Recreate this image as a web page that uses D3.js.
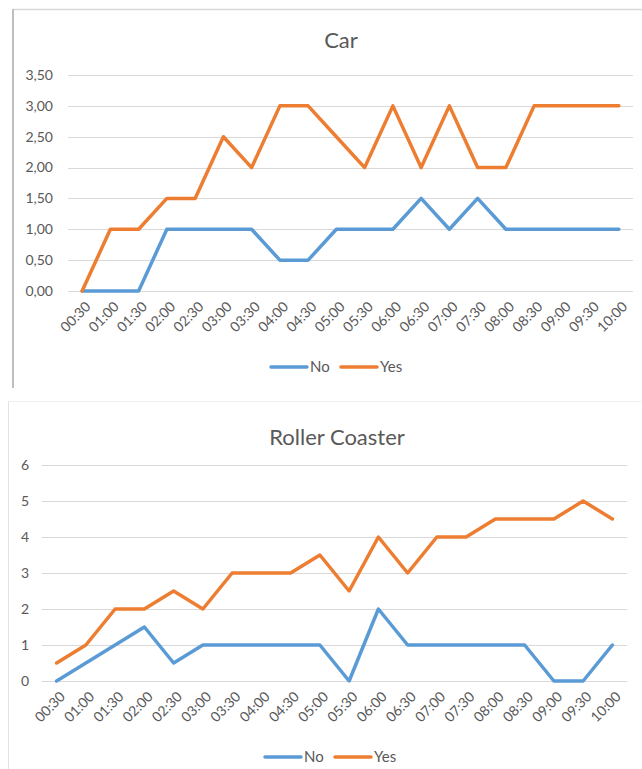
<!DOCTYPE html>
<html>
<head>
<meta charset="utf-8">
<script src="https://cdn.jsdelivr.net/npm/d3@7"></script>
<style>
  body { margin: 0; background: #fff; }
  svg { display: block; font-family: Lato, "Open Sans", sans-serif; }
  .grid line { stroke: #d9d9d9; stroke-width: 1; }
  .ytick, .xtick, .legend-text { fill: #595959; font-size: 14px; }
  .legend-text { font-size: 15px; }
  .title { fill: #595959; font-size: 22px; }
  .series { fill: none; stroke-width: 3.5; stroke-linejoin: round; stroke-linecap: round; }
</style>
</head>
<body>
<svg></svg>
<script>
const WIDTH = 642, HEIGHT = 769;

const times = ["00:30", "01:00", "01:30", "02:00", "02:30", "03:00", "03:30", "04:00", "04:30", "05:00",
  "05:30", "06:00", "06:30", "07:00", "07:30", "08:00", "08:30", "09:00", "09:30", "10:00"];

const carNo = [0, 0, 0, 1, 1, 1, 1, 0.5, 0.5, 1, 1, 1, 1.5, 1, 1.5, 1, 1, 1, 1, 1];
const carYes = [0, 1, 1, 1.5, 1.5, 2.5, 2, 3, 3, 2.5, 2, 3, 2, 3, 2, 2, 3, 3, 3, 3];
const carTicks = [0, 0.5, 1, 1.5, 2, 2.5, 3, 3.5];

const coasterNo = [0, 0.5, 1, 1.5, 0.5, 1, 1, 1, 1, 1, 0, 2, 1, 1, 1, 1, 1, 0, 0, 1];
const coasterYes = [0.5, 1, 2, 2, 2.5, 2, 3, 3, 3, 3.5, 2.5, 4, 3, 4, 4, 4.5, 4.5, 4.5, 5, 4.5];
const coasterTicks = [0, 1, 2, 3, 4, 5, 6];

const seriesNames = ["No", "Yes"];
const seriesColors = ["#5b9bd5", "#ed7d31"];

const svg = d3.select("svg").attr("width", WIDTH).attr("height", HEIGHT);

// chart frames (partial borders as in the screenshot)
svg.append("line").attr("x1", 13).attr("x2", WIDTH).attr("y1", 9.5).attr("y2", 9.5)
  .attr("stroke", "#d9d9d9").attr("stroke-width", 1.5);
svg.append("line").attr("x1", 13).attr("x2", 13).attr("y1", 9).attr("y2", 388)
  .attr("stroke", "#bfbfbf").attr("stroke-width", 2);
svg.append("line").attr("x1", 8).attr("x2", WIDTH).attr("y1", 401.5).attr("y2", 401.5)
  .attr("stroke", "#f0f0f0").attr("stroke-width", 1);
svg.append("line").attr("x1", 8.5).attr("x2", 8.5).attr("y1", 401).attr("y2", HEIGHT)
  .attr("stroke", "#e3e3e3").attr("stroke-width", 1);

const drawChart = cfg => {
  const g = svg.append("g");
  const x = d3.scaleBand().domain(times).range([cfg.left, cfg.right]);
  const y = d3.scaleLinear().domain([0, d3.max(cfg.ticks)]).range([cfg.bottom, cfg.top]);

  g.append("text").attr("class", "title")
    .attr("x", cfg.titleX).attr("y", cfg.titleY)
    .attr("text-anchor", "middle")
    .text(cfg.title);

  g.append("g").attr("class", "grid")
    .selectAll("line").data(cfg.ticks).enter()
    .append("line")
    .attr("x1", cfg.left).attr("x2", cfg.right)
    .attr("y1", d => Math.round(y(d)) + 0.5).attr("y2", d => Math.round(y(d)) + 0.5);

  g.append("g").selectAll("text").data(cfg.ticks).enter()
    .append("text").attr("class", "ytick")
    .attr("x", cfg.labelX).attr("y", d => y(d))
    .attr("dy", "0.35em").attr("text-anchor", "end")
    .text(cfg.format);

  g.append("g").selectAll("text").data(times).enter()
    .append("text").attr("class", "xtick")
    .attr("text-anchor", "end")
    .attr("transform", d => `translate(${x(d) + x.bandwidth() / 2 + 6},${cfg.bottom + 13}) rotate(-45)`)
    .attr("dy", "0.35em")
    .text(d => d);

  const line = d3.line()
    .x((d, i) => x(times[i]) + x.bandwidth() / 2)
    .y(d => y(d));

  g.append("g").selectAll("path").data(cfg.series).enter()
    .append("path").attr("class", "series")
    .attr("stroke", (d, i) => seriesColors[i])
    .attr("d", d => line(d));

  const legend = g.append("g").selectAll("g").data(seriesNames).enter()
    .append("g")
    .attr("transform", (d, i) => `translate(${cfg.legendX + i * 70},${cfg.legendY})`);
  legend.append("line")
    .attr("x1", 0).attr("x2", 36)
    .attr("stroke", (d, i) => seriesColors[i])
    .attr("stroke-width", 3.5).attr("stroke-linecap", "round");
  legend.append("text").attr("class", "legend-text")
    .attr("x", 39).attr("dy", "0.35em")
    .text(d => d);
};

const comma2 = d => d3.format(".2f")(d).replace(".", ",");

drawChart({
  title: "Car", titleX: 341, titleY: 48,
  left: 68, right: 633, top: 75, bottom: 291,
  labelX: 53, ticks: carTicks, format: comma2,
  series: [carNo, carYes],
  legendX: 271, legendY: 367
});

drawChart({
  title: "Roller Coaster", titleX: 337, titleY: 445,
  left: 42, right: 627, top: 465, bottom: 681,
  labelX: 29, ticks: coasterTicks, format: d => d,
  series: [coasterNo, coasterYes],
  legendX: 265, legendY: 757
});
</script>
</body>
</html>
